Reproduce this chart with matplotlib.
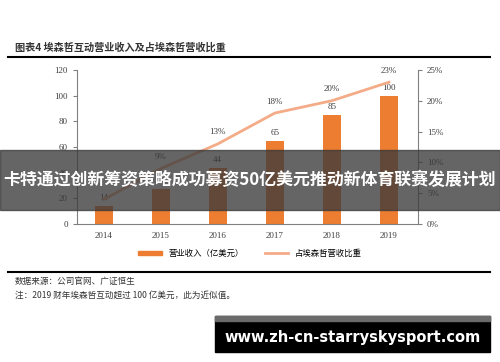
import matplotlib.pyplot as plt
import matplotlib.patches as mpatches
from matplotlib.lines import Line2D

plt.rcParams['font.family'] = ['Liberation Serif', 'Noto Sans CJK SC', 'DejaVu Sans']

# 数据
years = ['2014', '2015', '2016', '2017', '2018', '2019']
revenue = [14, 27, 44, 65, 85, 100]          # 营业收入（亿美元）
share = [4, 9, 13, 18, 20, 23]               # 占埃森哲营收比重 (%)
share_labels = ['', '9%', '13%', '18%', '20%', '23%']

bar_color = '#ED7D31'
line_color = '#F4AC88'
cjk = ['Noto Sans CJK SC', 'DejaVu Sans']

fig = plt.figure(figsize=(5, 3.62), dpi=100)
ax = fig.add_axes([0.154, 0.381, 0.682, 0.426])
x = range(len(years))
ax.bar(x, revenue, width=0.32, color=bar_color, zorder=2)
for i, v in enumerate(revenue):
    ax.text(i, v + 3, str(v), ha='center', va='bottom', fontsize=6.5, color='#404040')
ax.set_ylim(0, 120)
ax.set_yticks(range(0, 121, 20))
ax.set_xlim(-0.47, 5.51)
ax.set_xticks(list(x))
ax.set_xticklabels(years)
for s in ['top', 'right']:
    ax.spines[s].set_visible(False)
for s in ['left', 'bottom']:
    ax.spines[s].set_color('#808080')
ax.tick_params(axis='y', labelsize=6.5, colors='#404040', length=3, color='#808080')
ax.tick_params(axis='x', labelsize=6.5, colors='#404040', length=0, pad=6)

ax2 = ax.twinx()
ax2.plot(list(x), share, color=line_color, linewidth=2, zorder=3)
for i, v in enumerate(share):
    if share_labels[i]:
        ax2.text(i, v + 1.2, share_labels[i], ha='center', va='bottom', fontsize=6.5, color='#404040')
ax2.set_ylim(0, 25)
ax2.set_yticks(range(0, 26, 5))
ax2.set_yticklabels([f'{t}%' for t in range(0, 26, 5)])
for s in ['top', 'left', 'bottom']:
    ax2.spines[s].set_visible(False)
ax2.spines['right'].set_color('#808080')
ax2.tick_params(axis='y', labelsize=6.5, colors='#404040', length=3, color='#808080')

# 标题
fig.text(0.03, 0.868, '图表4 埃森哲互动营业收入及占埃森哲营收比重', fontsize=7.3,
         fontweight='bold', family=cjk, color='#333333', va='center')
fig.add_artist(Line2D([0.016, 0.98], [0.843, 0.843], color='black', linewidth=1.5))

# 图例
handles = [mpatches.Patch(color=bar_color), Line2D([], [], color=line_color, linewidth=2)]
leg = fig.legend(handles, ['营业收入（亿美元）', '占埃森哲营收比重'], loc='center',
                 bbox_to_anchor=(0.5, 0.3), ncol=2, frameon=False,
                 prop={'family': cjk, 'size': 6}, handlelength=2.8, handleheight=0.5,
                 columnspacing=2.5)

fig.add_artist(Line2D([0.016, 0.98], [0.25, 0.25], color='black', linewidth=1.5))
fig.text(0.03, 0.222, '数据来源：公司官网、广证恒生', fontsize=6.2, family=cjk, color='#333333', va='center')
fig.text(0.03, 0.183, '注：2019 财年埃森哲互动超过 100 亿美元，此为近似值。', fontsize=6.2,
         family=cjk, color='#333333', va='center')

# 横幅
fig.add_artist(mpatches.Rectangle((0, 0.42), 1, 0.165, transform=fig.transFigure,
                                  color='#3a3a3a', alpha=0.78, zorder=10))
fig.text(0.5, 0.502, '卡特通过创新筹资策略成功募资50亿美元推动新体育联赛发展计划',
         fontsize=12.2, fontweight='bold', family=cjk, color='white',
         ha='center', va='center', zorder=11)

# 网址水印
fig.add_artist(mpatches.Rectangle((0.43, 0.028), 0.55, 0.1, transform=fig.transFigure,
                                  color='black', zorder=10))
fig.add_artist(mpatches.Rectangle((0.43, 0.113), 0.55, 0.015, transform=fig.transFigure,
                                  color='#6a6a6a', zorder=11))
fig.text(0.705, 0.068, 'www.zh-cn-starryskysport.com', fontsize=10.5, fontweight='bold',
         family=['DejaVu Sans'], color='white', ha='center', va='center', zorder=12)

fig.savefig('out.png', dpi=100)
